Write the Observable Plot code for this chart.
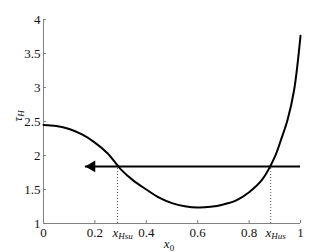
<!DOCTYPE html>
<html><head>
<meta charset="utf-8">
<script src="https://cdn.jsdelivr.net/npm/d3@7"></script>
<script src="https://cdn.jsdelivr.net/npm/@observablehq/plot@0.6"></script>
<style>
body{margin:0;background:#fff}
svg, svg text{font-family:"Liberation Serif",serif !important}
</style>
</head><body><div id="chart"></div>
<script>
// curve tau_H(x0)
const x0Values = [0, 0.05, 0.1, 0.15, 0.2, 0.25, 0.3, 0.35, 0.4, 0.45, 0.5, 0.55, 0.6, 0.65, 0.7, 0.75, 0.8, 0.85, 0.9, 0.925, 0.95, 0.975, 1.0];
const tauValues = [2.45, 2.435, 2.39, 2.31, 2.19, 2.03, 1.80, 1.63, 1.50, 1.38, 1.30, 1.255, 1.235, 1.245, 1.28, 1.34, 1.46, 1.64, 1.98, 2.24, 2.53, 2.96, 3.76];
const xTicks = [0, 0.2, 0.4, 0.6, 0.8, 1];
const xTickLabels = ["0", "0.2", "0.4", "0.6", "0.8", "1"];
const yTicks = [1, 1.5, 2, 2.5, 3, 3.5, 4];
const yTickLabels = ["1", "1.5", "2", "2.5", "3", "3.5", "4"];
const crossX = [0.288, 0.884];
const crossLabels = ["xHsu", "xHus"];
const tauLevel = 1.84;
const arrowFrom = 1.0;
const arrowTo = 0.163;
const xDomain = [0, 1];
const yDomain = [1, 4];

const curve = x0Values.map((x, i) => ({x, y: tauValues[i]}));

const serif = "'Liberation Serif', serif";
const axisColor = "#808080";
const plot = Plot.plot({
  width: 332, height: 252,
  marginLeft: 43, marginRight: 32, marginTop: 19, marginBottom: 29,
  style: {fontSize: "13px", fontFamily: serif, color: "#111", background: "#fff"},
  x: {domain: xDomain, axis: null},
  y: {domain: yDomain, axis: null},
  marks: [
    Plot.ruleY([yDomain[0]], {stroke: axisColor}),
    Plot.ruleX([xDomain[0]], {stroke: axisColor}),
    Plot.axisX({ticks: xTicks, tickFormat: d => xTickLabels[xTicks.indexOf(d)], tickSize: -3, tickPadding: 7, stroke: axisColor, fill: "#111", fontSize: 13, label: null}),
    Plot.axisX({ticks: crossX, tickFormat: d => crossLabels[crossX.indexOf(d)], tickSize: 0, tickPadding: 4, dx: 5, fill: "#111", fontSize: 13, label: null}),
    Plot.axisY({ticks: yTicks, tickFormat: d => yTickLabels[yTicks.indexOf(d)], tickSize: -3, tickPadding: 6, stroke: axisColor, fill: "#111", fontSize: 13, label: null}),
    Plot.ruleX(crossX, {y1: yDomain[0], y2: tauLevel, stroke: "#555", strokeDasharray: "1,2", strokeWidth: 1}),
    Plot.line(curve, {x: "x", y: "y", curve: "catmull-rom", stroke: "black", strokeWidth: 2}),
    Plot.ruleY([tauLevel], {x1: arrowTo, x2: arrowFrom, stroke: "black", strokeWidth: 2}),
    Plot.dot([arrowTo], {x: d => d, y: tauLevel, symbol: "triangle", rotate: -90, r: 4.3, fill: "black", stroke: "none", dx: 6.5}),
    Plot.text(["x0"], {frameAnchor: "bottom", text: d => d, dy: 24.5, dx: -3, lineAnchor: "bottom", fontSize: 13, fill: "#111"}),
    Plot.text(["τH"], {frameAnchor: "left", text: d => d, rotate: -90, dx: -22, lineAnchor: "bottom", fontSize: 13, fill: "#111"})
  ]
});
document.getElementById("chart").append(plot);

// typeset italic symbols with subscripts
const fmt = {
  "xHsu": [["x", true, false], ["Hsu", true, true]],
  "xHus": [["x", true, false], ["Hus", true, true]],
  "x0": [["x", true, false], ["0", false, true]],
  "τH": [["τ", true, false], ["H", true, true]]
};
d3.select(plot).selectAll("text").each(function() {
  this.setAttribute("font-family", serif);
  this.style.fontFamily = serif;
  const parts = fmt[this.textContent];
  if (!parts) return;
  const t = d3.select(this);
  t.text(null);
  parts.forEach(([s, it, sub]) => {
    const sp = t.append("tspan").text(s);
    if (it) sp.attr("font-style", "italic");
    if (sub) sp.attr("font-size", "9px").attr("dy", "0.3em");
  });
});
</script>
</body></html>
